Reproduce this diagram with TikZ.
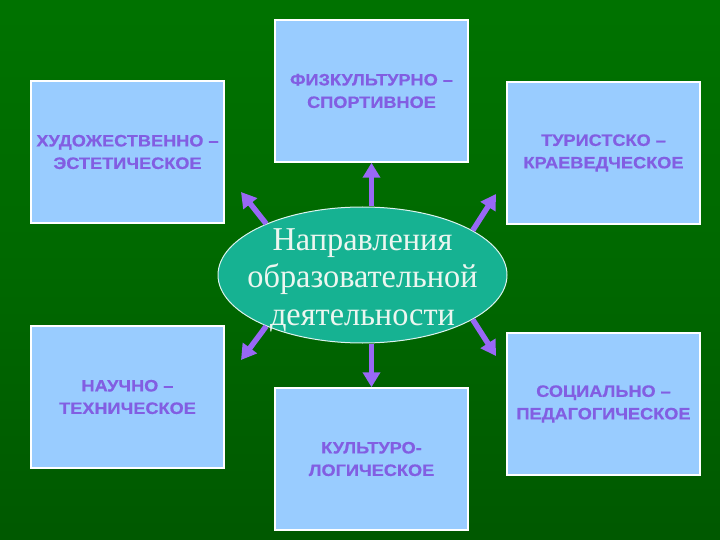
\documentclass[tikz,border=0pt]{standalone}
\usepackage{fontspec}
\usetikzlibrary{arrows.meta,shapes.geometric}
\newfontfamily\boxfont[FakeStretch=1.1,FakeBold=0.6]{Liberation Sans Bold}
\newfontfamily\ellfont[FakeStretch=0.97]{Liberation Serif}
\definecolor{bgA}{RGB}{0,56,0}
\definecolor{bgB}{RGB}{0,122,0}
\definecolor{bgC}{RGB}{0,104,0}
\definecolor{bgD}{RGB}{0,78,0}
\definecolor{bgE}{RGB}{0,44,0}
\definecolor{boxfill}{RGB}{153,204,255}
\definecolor{boxtext}{RGB}{130,94,226}
\definecolor{arrowcol}{RGB}{152,104,245}
\definecolor{ellfill}{RGB}{22,178,146}
\definecolor{elltext}{RGB}{236,246,240}
\pgfdeclareverticalshading{bgshade}{100bp}{color(0bp)=(bgE); color(8bp)=(bgD); color(50bp)=(bgC); color(93bp)=(bgB); color(100bp)=(bgA)}
\tikzset{
  dirbox/.style={rectangle, draw=white, line width=1.5pt, fill=boxfill,
    minimum width=193pt, minimum height=142pt, inner sep=0pt,
    text=boxtext, align=center, font=\boxfont\fontsize{16.5}{22.5}\selectfont},
  centre/.style={ellipse, draw=white!85!ellfill, line width=1pt, fill=ellfill,
    minimum width=289pt, minimum height=136pt, inner sep=0pt},
  centretext/.style={inner sep=0pt, text=elltext, align=center,
    font=\ellfont\fontsize{33.3}{37.5}\selectfont},
  arr/.style={draw=arrowcol, line width=5.5pt,
    -{Triangle[length=15pt,width=17pt]}}
}
\begin{document}
\begin{tikzpicture}[x=1pt,y=-1pt]
\useasboundingbox (0,0) rectangle (720,540);
\shade[shading=bgshade] (0,0) rectangle (720,540);
\node[dirbox] (fz)  at (371.5,91)  {ФИЗКУЛЬТУРНО –\\СПОРТИВНОЕ};
\node[dirbox] (hud) at (127.5,152) {ХУДОЖЕСТВЕННО –\\ЭСТЕТИЧЕСКОЕ};
\node[dirbox] (tur) at (603.5,153) {ТУРИСТСКО –\\КРАЕВЕДЧЕСКОЕ};
\node[dirbox] (nau) at (127.5,397) {НАУЧНО –\\ТЕХНИЧЕСКОЕ};
\node[dirbox] (soc) at (603.5,404) {СОЦИАЛЬНО –\\ПЕДАГОГИЧЕСКОЕ};
\node[dirbox] (kul) at (371.5,459) {КУЛЬТУРО-\\ЛОГИЧЕСКОЕ};
\node[centre] (c) at (362.5,275) {};
\node[centretext] (ct) at (362.5,280) {Направления\\образовательной\\деятельности};
\coordinate (tUL) at (241,192);
\coordinate (tUR) at (496,194);
\coordinate (tLL) at (241,360);
\coordinate (tLR) at (496,356);
\draw[arr] (c.north -| fz.south) -- (fz.south);
\draw[arr] (c.south -| kul.north) -- (kul.north);
\draw[arr] (c.152) -- (tUL);
\draw[arr] (c.22) -- (tUR);
\draw[arr] (c.208) -- (tLL);
\draw[arr] (c.338) -- (tLR);
\end{tikzpicture}
\end{document}
